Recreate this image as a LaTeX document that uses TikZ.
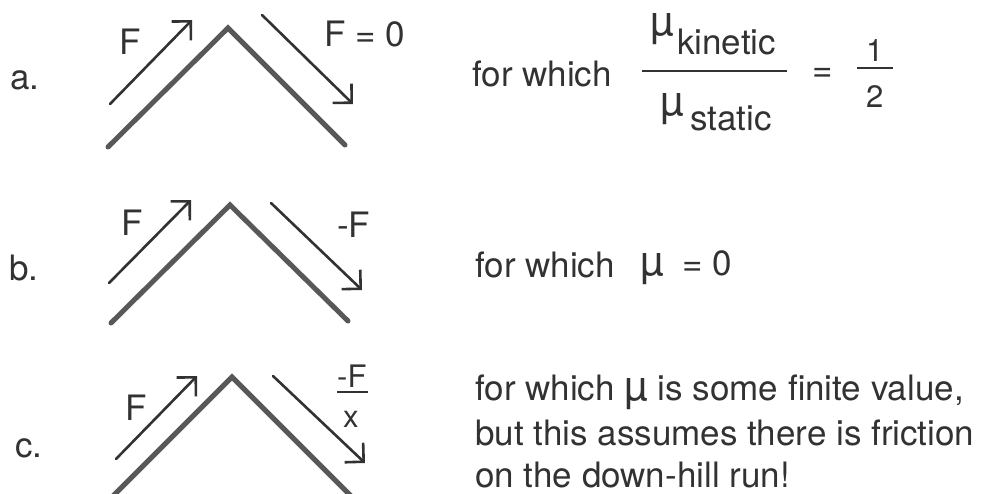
\documentclass[tikz,border=0pt]{standalone}
\usepackage{fontspec}
\setmainfont{TeX Gyre Heros}
\usepackage{tikz}
\usetikzlibrary{arrows.meta}
\definecolor{ink}{RGB}{50, 50, 50}
\definecolor{hillgray}{RGB}{88, 88, 88}
\newcommand{\mufric}{{\fontsize{42}{42}\selectfont µ}}

\begin{document}
\begin{tikzpicture}[x=1pt, y=-1pt,
  slope/.style={line width=5pt, hillgray, line join=miter, line cap=round},
  push/.style={line width=2.6pt, ink, line cap=round, -{Straight Barb[angle=90:19pt]}},
  lbl/.style={font=\fontsize{35}{42}\selectfont, ink, inner sep=0pt, anchor=base west},
  lblsmall/.style={font=\fontsize{31}{36}\selectfont, ink, inner sep=0pt, anchor=base west}]
  \useasboundingbox (0,0) rectangle (987,494);

  % Hill a: F up, nothing down
  \coordinate (aL) at (108,147);
  \coordinate (aT) at (228,28);
  \coordinate (aR) at (345,145);
  \coordinate (aUs) at (110,104);
  \coordinate (aUe) at (192,20);
  \coordinate (aDs) at (262,15);
  \coordinate (aDe) at (353,104);
  \draw[slope] (aL) -- (aT) -- (aR);
  \draw[push] (aUs) -- (aUe);
  \draw[push] (aDs) -- (aDe);

  % Hill b: F up, -F down
  \coordinate (bL) at (111,323);
  \coordinate (bT) at (230,205);
  \coordinate (bR) at (348,321);
  \coordinate (bUs) at (109,283);
  \coordinate (bUe) at (191,200);
  \coordinate (bDs) at (271,203);
  \coordinate (bDe) at (362,290);
  \draw[slope] (bL) -- (bT) -- (bR);
  \draw[push] (bUs) -- (bUe);
  \draw[push] (bDs) -- (bDe);

  % Hill c: F up, -F/x down
  \coordinate (cL) at (112,497);
  \coordinate (cT) at (232,377);
  \coordinate (cR) at (352,497);
  \coordinate (cUs) at (116,459);
  \coordinate (cUe) at (197,376);
  \coordinate (cDs) at (273,376);
  \coordinate (cDe) at (365,463);
  \draw[slope] (cL) -- (cT) -- (cR);
  \draw[push] (cUs) -- (cUe);
  \draw[push] (cDs) -- (cDe);

  % Case letters
  \node[lbl] (casea) at (10,90) {a.};
  \node[lbl] (caseb) at (9,280) {b.};
  \node[lbl] (casec) at (15,457) {c.};

  % Force labels
  \node[lbl] (aF) at (119,55) {F};
  \node[lbl] (aFzero) at (324,47) {F = 0};
  \node[lbl] (bF) at (121,236) {F};
  \node[lbl] (bFneg) at (337,237) {-F};
  \node[lbl] (cF) at (125,420) {F};
  \node[lblsmall] (cFneg) at (337,387) {-F};
  \node[lblsmall] (cFdiv) at (343,427) {x};
  \draw[ink, line width=2.2pt] (337,392) -- (368,392);

  % Right side: a
  \node[lbl] (aWhich) at (472,87) {for which};
  \node[lbl] (aMuTop) at (650,36) {\mufric};
  \node[lbl] (aKin) at (677,55) {kinetic};
  \draw[ink, line width=2.6pt] (642,71) -- (787,71);
  \node[lbl] (aMuBot) at (660,116) {\mufric};
  \node[lbl] (aStat) at (690,131) {static};
  \node[lbl] (aEq) at (812,82) {=};
  \node[lblsmall] (aOne) at (866,62) {1};
  \draw[ink, line width=2.4pt] (857,68) -- (893,68);
  \node[lblsmall] (aTwo) at (866,108) {2};

  % Right side: b
  \node[lbl] (bWhich) at (475,277) {for which};
  \node[lbl] (bMu) at (640,276) {\mufric};
  \node[lbl] (bZero) at (682,276) {= 0};

  % Right side: c
  \node[lbl] (cLineA) at (475,400) {for which \mufric\ is some finite value,};
  \node[lbl] (cLineB) at (475,445) {but this assumes there is friction};
  \node[lbl] (cLineC) at (475,487) {on the down-hill run!};
\end{tikzpicture}
\end{document}
